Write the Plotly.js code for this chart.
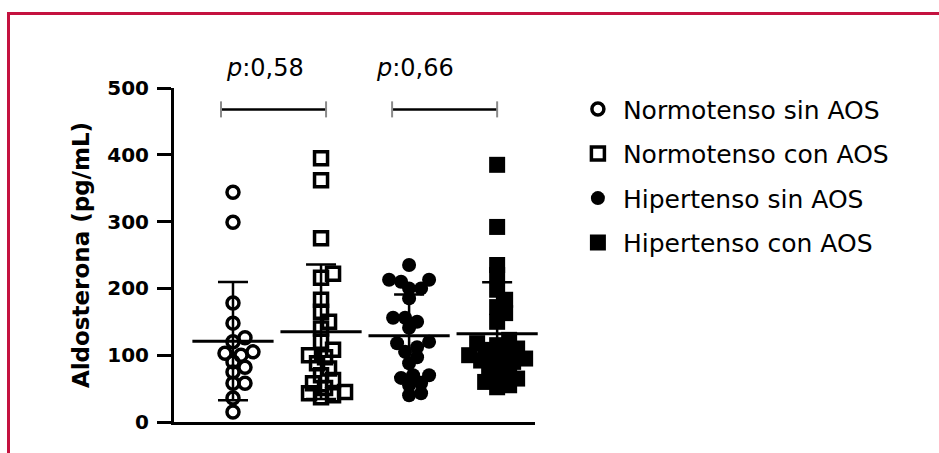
<!DOCTYPE html>
<html>
<head>
<meta charset="utf-8">
<script src="https://cdn.plot.ly/plotly-3.0.1.min.js"></script>
<style>
  html, body { margin: 0; padding: 0; background: #fff; }
  #wrap { position: relative; width: 939px; height: 453px; overflow: hidden; }
  #chart { position: absolute; left: 0; top: 0; width: 939px; height: 453px; }
  #frame { position: absolute; left: 7px; top: 12px; width: 960px; height: 470px;
           border-left: 3px solid #c4123f; border-top: 3px solid #c4123f; pointer-events: none; }
</style>
</head>
<body>
<div id="wrap">
  <div id="chart"></div>
  <div id="frame"></div>
</div>
<script>
// ---- data ----
const categories = ['Normotenso sin AOS', 'Normotenso con AOS', 'Hipertenso sin AOS', 'Hipertenso con AOS'];
const normoSinAOS = [344, 299, 178, 148, 126, 120, 105, 103, 100, 90, 82, 75, 58, 58, 36, 15];
const normoConAOS = [395, 362, 275, 222, 216, 183, 165, 150, 140, 120, 108, 100, 97, 88, 80, 70, 63, 58, 51, 45, 43, 40, 37];
const hiperSinAOS = [235, 213, 210, 213, 200, 200, 185, 156, 156, 150, 141, 120, 118, 112, 105, 97, 88, 70, 70, 66, 58, 55, 43, 40];
const hiperConAOS = [385, 292, 235, 220, 198, 183, 172, 163, 150, 123, 118, 115, 110, 108, 105, 100, 98, 95, 92, 90, 88, 82, 75, 70, 65, 60, 55, 52];
const pValues = ['0,58', '0,66'];
const comparisons = [[0, 1], [2, 3]];
const yTicks = [0, 100, 200, 300, 400, 500];

const groups = [normoSinAOS, normoConAOS, hiperSinAOS, hiperConAOS];

// ---- geometry for the swarm layout ----
const W = 939, H = 453;
const M = { l: 174, r: 404, t: 88, b: 31 };
const xRange = [-0.67, 3.43];
const yRange = [0, 500];
const xUnitPx = (W - M.l - M.r) / (xRange[1] - xRange[0]);
const yUnitPx = (H - M.t - M.b) / (yRange[1] - yRange[0]);

function swarm(values, minDist, step) {
  const order = values.map((v, i) => i).sort((a, b) => values[a] - values[b]);
  const placed = [];
  const offs = new Array(values.length).fill(0);
  for (const i of order) {
    const yp = values[i] * yUnitPx;
    for (let k = 0; k < 60; k++) {
      const o = k === 0 ? 0 : (k % 2 ? 1 : -1) * Math.ceil(k / 2) * step;
      if (placed.every(p => Math.hypot(p.x - o, p.y - yp) >= minDist)) {
        offs[i] = o; placed.push({ x: o, y: yp }); break;
      }
    }
  }
  return offs.map(o => o / xUnitPx);
}

function mean(a) { return a.reduce((s, v) => s + v, 0) / a.length; }
function sd(a) { const m = mean(a); return Math.sqrt(a.reduce((s, v) => s + (v - m) * (v - m), 0) / (a.length - 1)); }

const markerStyles = [
  { symbol: 'circle-open', size: 12, color: '#000', line: { width: 3.5, color: '#000' } },
  { symbol: 'square-open', size: 13, color: '#000', line: { width: 3.5, color: '#000' } },
  { symbol: 'circle', size: 14, color: '#000', line: { width: 0 } },
  { symbol: 'square', size: 16, color: '#000', line: { width: 0 } }
];

const traces = [];
groups.forEach((vals, g) => {
  const offs = swarm(vals, 10, 4);
  traces.push({
    type: 'scatter', mode: 'markers', name: categories[g],
    legendgroup: 'g' + g,
    x: vals.map((v, i) => g + offs[i]), y: vals,
    marker: markerStyles[g], cliponaxis: false, hoverinfo: 'y'
  });
});
groups.forEach((vals, g) => {
  traces.push({
    type: 'scatter', mode: 'markers', showlegend: false,
    x: [g], y: [mean(vals)],
    marker: { symbol: 'line-ew', size: 58, color: '#000', line: { width: 3, color: '#000' } },
    error_y: { type: 'data', array: [sd(vals)], visible: true, color: '#000', thickness: 2.5, width: 15 },
    cliponaxis: false, hoverinfo: 'y'
  });
});

// significance brackets
const bracketY = 468;
const bracketPad = [[-0.136, 0.057], [-0.193, 0.0]];
const shapes = [];
const annotations = [];
const labelX = [0.36, 2.07];
const labelY = 530;
comparisons.forEach((c, k) => {
  const x0 = c[0] + bracketPad[k][0], x1 = c[1] + bracketPad[k][1];
  shapes.push({ type: 'line', xref: 'x', yref: 'y', x0: x0, x1: x1, y0: bracketY, y1: bracketY, line: { color: '#000', width: 2.5 } });
  [x0, x1].forEach(xx => shapes.push({ type: 'line', xref: 'x', yref: 'y', x0: xx, x1: xx, y0: bracketY - 12, y1: bracketY + 12, line: { color: '#8a8a8a', width: 2 } }));
  annotations.push({ xref: 'x', yref: 'paper', x: labelX[k], y: (labelY - yRange[0]) / (yRange[1] - yRange[0]),
    text: '<i>p</i>:' + pValues[k], showarrow: false, xanchor: 'center', yanchor: 'middle',
    font: { family: 'DejaVu Sans', size: 24, color: '#000' } });
});

const layout = {
  width: W, height: H,
  margin: M,
  paper_bgcolor: 'rgba(0,0,0,0)', plot_bgcolor: 'rgba(0,0,0,0)',
  showlegend: true,
  legend: {
    x: 1.105, xanchor: 'left', y: 1.005, yanchor: 'top',
    font: { family: 'DejaVu Sans', size: 25, color: '#000' },
    traceorder: 'grouped', tracegroupgap: 9, bgcolor: 'rgba(0,0,0,0)', itemwidth: 40
  },
  xaxis: { range: xRange, showticklabels: false, ticks: '', showgrid: false, zeroline: false,
           showline: true, linewidth: 3, linecolor: '#000', fixedrange: true },
  yaxis: { range: yRange, tickvals: yTicks, ticks: 'outside', ticklen: 14, tickwidth: 3, tickcolor: '#000',
           showgrid: false, zeroline: false, showline: true, linewidth: 3, linecolor: '#000',
           ticklabelstandoff: 4,
           tickfont: { family: 'DejaVu Sans', size: 20, color: '#000', weight: 'bold' },
           title: { text: 'Aldosterona (pg/mL)', standoff: 12,
                    font: { family: 'DejaVu Sans', size: 23, color: '#000', weight: 'bold' } } },
  shapes: shapes,
  annotations: annotations
};

Plotly.newPlot('chart', traces, layout, { displayModeBar: false, staticPlot: true });
</script>
</body>
</html>
